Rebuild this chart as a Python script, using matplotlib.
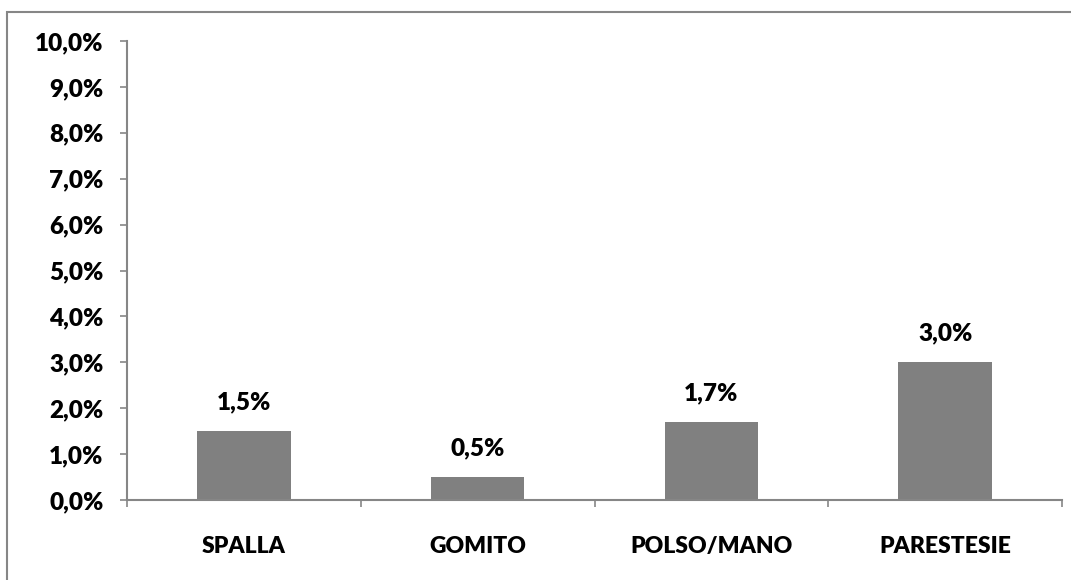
import numpy as np
import matplotlib.pyplot as plt
from matplotlib.patches import Rectangle
from matplotlib.ticker import FuncFormatter, MultipleLocator

categorie = ['SPALLA', 'GOMITO', 'POLSO/MANO', 'PARESTESIE']
valori = [1.5, 0.5, 1.7, 3.0]  # percentuali

plt.rcParams['font.family'] = ['Lato', 'DejaVu Sans']
plt.rcParams['font.weight'] = 'heavy'

grigio = '#868686'
fs = 17.5

fig = plt.figure(figsize=(10.71, 5.8), dpi=100)
W, H = 1071, 580
ax = fig.add_axes([127 / W, (H - 500) / H, (1062 - 127) / W, (500 - 41) / H])

x = np.arange(len(categorie))
barre = ax.bar(x, valori, width=0.4, color='#808080')

def pct(v):
    return f'{v:.1f}%'.replace('.', ',')

ax.bar_label(barre, labels=[pct(v) for v in valori], padding=13,
             fontsize=fs, fontweight='heavy')

ax.set_xlim(-0.5, len(categorie) - 0.5)
ax.set_ylim(0, 10)
ax.yaxis.set_major_locator(MultipleLocator(1))
ax.yaxis.set_major_formatter(FuncFormatter(lambda v, p: pct(v)))

ax.set_xticks(x)
ax.set_xticklabels(categorie)
ax.set_xticks(np.arange(len(categorie) + 1) - 0.5, minor=True)
ax.tick_params(axis='x', which='major', length=0, pad=26, labelsize=16.5)
ax.tick_params(axis='x', which='minor', length=5, width=1.2, color=grigio)
ax.tick_params(axis='y', length=5, width=1.2, color=grigio, pad=12, labelsize=fs)

for s in ['top', 'right']:
    ax.spines[s].set_visible(False)
for s in ['left', 'bottom']:
    ax.spines[s].set_color(grigio)
    ax.spines[s].set_linewidth(1.5)

# cornice del grafico
fig.patches.append(Rectangle((7 / W, -0.1), 1.2, (H - 12) / H + 0.1,
                             transform=fig.transFigure, fill=False,
                             edgecolor=grigio, linewidth=1.5))

fig.savefig('out.png', dpi=100)
